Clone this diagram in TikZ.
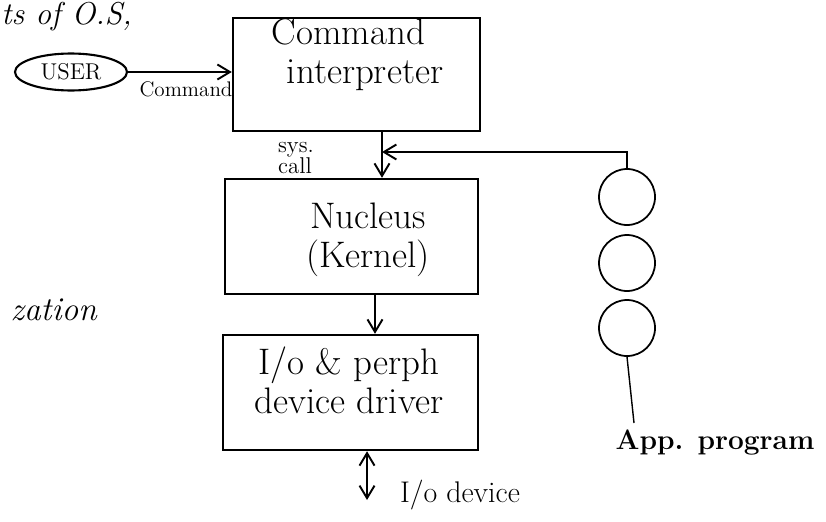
\documentclass[tikz,border=0pt]{standalone}
\usepackage{tikz}
\usetikzlibrary{arrows.meta, positioning, shapes.geometric, calc}

\begin{document}
\begin{tikzpicture}[every node/.style={font=\Large},
  boxnode/.style={rectangle, draw=black, line width=1.4pt, inner sep=0pt},
  usernode/.style={ellipse, draw=black, line width=1.2pt, minimum width=2.24cm, minimum height=0.74cm, inner sep=0pt, font=\fontsize{13}{15}\selectfont},
  prognode/.style={circle, draw=black, line width=1pt, minimum size=1.12cm, inner sep=0pt},
  txtnode/.style={font=\fontsize{21}{22}\selectfont, align=center, inner sep=0pt},
  linelbl/.style={font=\large, align=left, inner sep=0pt},
  arrowline/.style={-{Straight Barb[length=2.5mm, width=3mm]}, line width=1.1pt},
]
\clip (0,0) rectangle (16.52,-10.42);
\node[txtnode, font=\fontsize{18}{21}\selectfont\itshape, anchor=base west] (title) at (0.02,-0.5) {ts of O.S,};
\node[txtnode, font=\fontsize{19}{22}\selectfont\itshape, anchor=base east] (side) at (1.94,-6.4) {zation};
\node[usernode] (user) at (1.42,-1.44) {USER};
\node[boxnode, minimum width=4.94cm, minimum height=2.26cm] (cmd) at (7.13,-1.49) {};
\node[txtnode, align=left] (cmdtxt) at (7.15,-1.1) {Command\\\hspace*{3mm}interpreter};
\node[boxnode, minimum width=5.06cm, minimum height=2.30cm] (nucleus) at (7.03,-4.73) {};
\node[txtnode] (nuctxt) at (7.36,-4.8) {Nucleus\\(Kernel)};
\node[boxnode, minimum width=5.10cm, minimum height=2.30cm] (io) at (7.01,-7.85) {};
\node[txtnode] (iotxt) at (6.98,-7.6) {I/o \& perph\\device driver};
\node[prognode] (app1) at (12.54,-3.94) {}; \node[prognode] (app2) at (12.54,-5.26) {}; \node[prognode] (app3) at (12.54,-6.56) {};
\coordinate (callx) at (7.64,0); \coordinate (join) at (7.64,-3.04); \coordinate (nucx) at (7.5,0); \coordinate (devx) at (7.34,0);
\coordinate (dev) at (7.34,-10.0); \coordinate (apptail) at (12.68,-8.46);
\draw[arrowline] (user.east) -- (user.east -| cmd.west);
\node[linelbl] (cmdlbl) at (3.72,-1.78) {Command};
\node[linelbl, font=\fontsize{13}{12}\selectfont] (syscall) at (5.92,-3.16) {sys.\\call};
\draw[arrowline] (cmd.south -| callx) -- (nucleus.north -| callx);
\draw[arrowline] (app1.north) |- (join);
\draw[arrowline] (nucleus.south -| nucx) -- (io.north -| nucx);
\draw[arrowline, {Straight Barb[length=2.5mm, width=3mm]}-{Straight Barb[length=2.5mm, width=3mm]}] (io.south -| devx) -- (dev);
\node[txtnode, font=\fontsize{17}{19}\selectfont] (devlbl) at (9.2,-9.9) {I/o device};
\draw[line width=0.8pt] (app3.south) -- (apptail);
\node[txtnode, font=\fontsize{16}{19}\selectfont\bfseries] (applbl) at (14.3,-8.84) {App. program};
\end{tikzpicture}
\end{document}
